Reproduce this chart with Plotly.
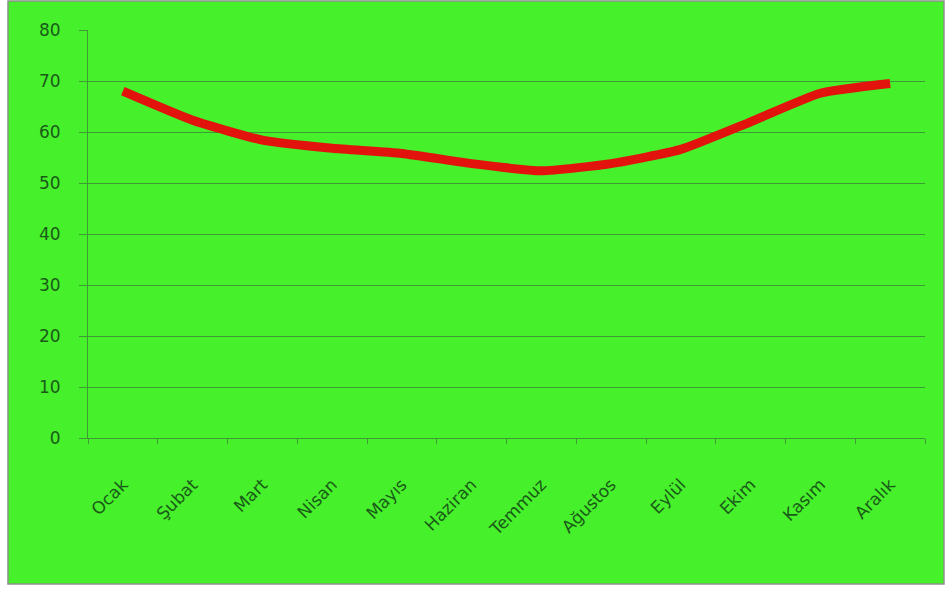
import plotly.graph_objects as go

months = ["Ocak", "Şubat", "Mart", "Nisan", "Mayıs", "Haziran",
          "Temmuz", "Ağustos", "Eylül", "Ekim", "Kasım", "Aralık"]
values = [68, 62.3, 58.4, 56.8, 55.8, 53.8, 52.4, 53.8, 56.6, 62.0, 67.6, 69.5]
y_ticks = [0, 10, 20, 30, 40, 50, 60, 70, 80]

GREEN = "#46f02a"
GRID = "#3e9a34"
TEXT = "#1a5a18"

fig = go.Figure()
fig.add_trace(go.Scatter(
    x=months, y=values, mode="lines",
    line=dict(color="#e2120c", width=9, shape="spline", smoothing=0.5),
    showlegend=False, hoverinfo="skip",
))

fig.add_shape(type="rect", xref="paper", yref="paper",
              x0=-0.0956, x1=1.0227, y0=-0.358, y1=1.071,
              fillcolor=GREEN, line=dict(color="#8a9488", width=1.5),
              layer="below")

fig.update_layout(
    width=947, height=590,
    margin=dict(l=88, r=22, t=30, b=152, autoexpand=False),
    paper_bgcolor="white",
    plot_bgcolor=GREEN,
    font=dict(family="DejaVu Sans, sans-serif", size=17, color=TEXT),
    xaxis=dict(
        type="category", tickangle=-45, tickson="boundaries",
        ticks="outside", ticklen=5, tickcolor=GRID,
        showline=True, linecolor=GRID, linewidth=1,
        showgrid=False, ticklabelstandoff=29,
        range=[-0.5, 11.5], automargin=False,
    ),
    yaxis=dict(
        range=[0, 80], tickvals=y_ticks, ticks="outside", ticklen=8,
        tickcolor=GRID, showline=True, linecolor=GRID, linewidth=1,
        gridcolor=GRID, gridwidth=1, zeroline=False,
        ticklabelstandoff=15, automargin=False,
    ),
)

fig.write_html("out.html", config={"displayModeBar": False},
               post_script="document.body.style.margin='0px';")
